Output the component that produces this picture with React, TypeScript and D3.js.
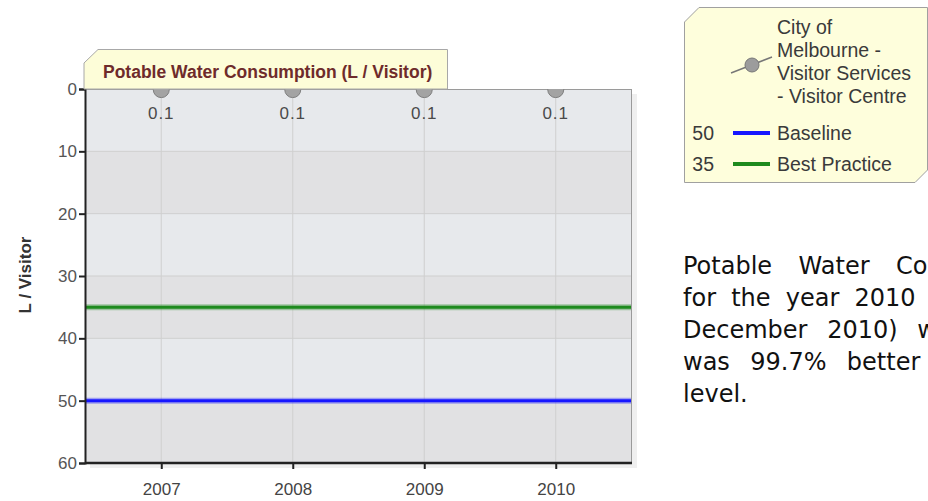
import React, { useEffect, useRef } from 'react';
import * as d3 from 'd3';

const years = ['2007', '2008', '2009', '2010'];
const visitorCentre = [0.1, 0.1, 0.1, 0.1];
const yTicks = [0, 10, 20, 30, 40, 50, 60];
const seriesName = ['City of', 'Melbourne -', 'Visitor Services', '- Visitor Centre'];
const refNames = ['Baseline', 'Best Practice'];
const refValues = [50, 35];
const refColors = ['#1616ff', '#1e8a1e'];
const chartTitle = 'Potable Water Consumption (L / Visitor)';
const yTitle = 'L / Visitor';
const summaryLines = [
  'Potable Water Consumption',
  'for the year 2010 (January -',
  'December 2010) was 0.1 L',
  'was 99.7% better than the',
  'level.',
];

const App = () => {
  const ref = useRef<SVGGElement>(null);

  useEffect(() => {
    const svg = d3.select(ref.current);
    svg.selectAll('*').remove();

    const left = 85, right = 632, top = 89, bottom = 463;
    const font = '"Liberation Sans", Arial, sans-serif';

    const x = d3.scalePoint<string>().domain(years).range([left, right]).padding(0.58);
    const y = d3.scaleLinear().domain([0, 60]).range([top, bottom]);

    svg.append('defs').append('clipPath').attr('id', 'plot-clip')
      .append('rect')
      .attr('x', left).attr('y', top)
      .attr('width', right - left).attr('height', bottom - top);

    // sombra
    svg.append('rect')
      .attr('x', left + 5).attr('y', top + 5)
      .attr('width', right - left).attr('height', bottom - top)
      .attr('fill', '#efefef');

    // faixas alternadas
    svg.selectAll('.band')
      .data(yTicks.slice(0, -1))
      .enter().append('rect')
      .attr('x', left).attr('y', d => y(d))
      .attr('width', right - left).attr('height', d => y(d + 10) - y(d))
      .attr('fill', (d, i) => (i % 2 === 0 ? '#e7e9ec' : '#e1e1e3'));

    // grade
    svg.selectAll('.hgrid')
      .data(yTicks.slice(1, -1))
      .enter().append('line')
      .attr('x1', left).attr('x2', right)
      .attr('y1', d => y(d)).attr('y2', d => y(d))
      .attr('stroke', '#cfcfcf');

    svg.selectAll('.vgrid')
      .data(years)
      .enter().append('line')
      .attr('x1', d => x(d)!).attr('x2', d => x(d)!)
      .attr('y1', top).attr('y2', bottom)
      .attr('stroke', '#cfcfcf');

    // linhas de referência
    const refs = refValues.map((v, i) => ({ v, color: refColors[i] }));
    svg.selectAll('.ref-halo')
      .data(refs)
      .enter().append('line')
      .attr('x1', left).attr('x2', right)
      .attr('y1', d => y(d.v)).attr('y2', d => y(d.v))
      .attr('stroke', d => d.color).attr('stroke-opacity', 0.35)
      .attr('stroke-width', 6);
    svg.selectAll('.ref')
      .data(refs)
      .enter().append('line')
      .attr('x1', left).attr('x2', right)
      .attr('y1', d => y(d.v)).attr('y2', d => y(d.v))
      .attr('stroke', d => d.color)
      .attr('stroke-width', 3);

    // bordas
    svg.append('line')
      .attr('x1', left).attr('x2', right).attr('y1', top + 0.5).attr('y2', top + 0.5)
      .attr('stroke', '#9a9a9a');
    svg.append('line')
      .attr('x1', right - 0.5).attr('x2', right - 0.5).attr('y1', top).attr('y2', bottom)
      .attr('stroke', '#9a9a9a');

    // pontos
    const pts = svg.append('g').attr('clip-path', 'url(#plot-clip)');
    pts.selectAll('circle')
      .data(visitorCentre)
      .enter().append('circle')
      .attr('cx', (d, i) => x(years[i])!)
      .attr('cy', d => y(d))
      .attr('r', 8)
      .attr('fill', '#a3a3a3')
      .attr('stroke', '#7e7e7e');

    svg.selectAll('.pt-label')
      .data(visitorCentre)
      .enter().append('text')
      .attr('x', (d, i) => x(years[i])!)
      .attr('y', d => y(d) + 29)
      .attr('text-anchor', 'middle')
      .attr('font-family', font).attr('font-size', 17)
      .attr('letter-spacing', 1)
      .attr('fill', '#4a4a4a')
      .text(d => d.toFixed(1));

    // eixos
    const yAxis = svg.append('g')
      .attr('transform', `translate(${left},0)`)
      .call(d3.axisLeft(y).tickValues(yTicks).tickSize(6).tickPadding(2));
    yAxis.select('.domain').attr('stroke', '#222').attr('stroke-width', 2);
    yAxis.selectAll('.tick line').attr('stroke', '#222').attr('stroke-width', 2);
    yAxis.selectAll('.tick text')
      .attr('font-family', font).attr('font-size', 17).attr('fill', '#555');

    const xAxis = svg.append('g')
      .attr('transform', `translate(0,${bottom})`)
      .call(d3.axisBottom(x).tickSize(6).tickPadding(14));
    xAxis.select('.domain').attr('stroke', '#222').attr('stroke-width', 2.5)
      .attr('d', `M${left},0H${right}`);
    xAxis.selectAll('.tick line').attr('stroke', '#222').attr('stroke-width', 2);
    xAxis.selectAll('.tick text')
      .attr('font-family', font).attr('font-size', 17).attr('fill', '#444');

    svg.append('text')
      .attr('transform', 'translate(31,275) rotate(-90)')
      .attr('text-anchor', 'middle')
      .attr('font-family', font).attr('font-size', 17).attr('font-weight', 'bold')
      .attr('fill', '#333')
      .text(yTitle);

    // aba do título
    svg.append('path')
      .attr('d', `M${left - 1},${top} V63 L98,49.5 H447.5 V${top} Z`)
      .attr('fill', '#fdfdd8').attr('stroke', '#a8a8a8');
    svg.append('text')
      .attr('x', 103).attr('y', 78)
      .attr('font-family', font).attr('font-size', 17.5).attr('font-weight', 'bold')
      .attr('fill', '#6e2b2b')
      .text(chartTitle);

    // legenda
    svg.append('path')
      .attr('d', 'M684.5,22 L699,7.5 H927.5 V170 L915,182.5 H684.5 Z')
      .attr('fill', '#fefedc').attr('stroke', '#a0a0a0');

    svg.append('line')
      .attr('x1', 731).attr('y1', 73).attr('x2', 772).attr('y2', 57)
      .attr('stroke', '#777').attr('stroke-width', 1.5);
    svg.append('circle')
      .attr('cx', 752).attr('cy', 65).attr('r', 7)
      .attr('fill', '#9c9c9c').attr('stroke', '#777');

    svg.selectAll('.leg-name')
      .data(seriesName)
      .enter().append('text')
      .attr('x', 777).attr('y', (d, i) => 34 + i * 23)
      .attr('font-family', font).attr('font-size', 19.5).attr('fill', '#3a3a3a')
      .text(d => d);

    const rows = refNames.map((name, i) => ({ name, v: refValues[i], color: refColors[i] }));
    const leg = svg.selectAll('.leg-row')
      .data(rows)
      .enter().append('g')
      .attr('transform', (d, i) => `translate(0,${133 + i * 31})`);
    leg.append('text')
      .attr('x', 714).attr('y', 7).attr('text-anchor', 'end')
      .attr('font-family', font).attr('font-size', 19.5).attr('fill', '#3a3a3a')
      .text(d => d.v);
    leg.append('line')
      .attr('x1', 733).attr('x2', 770)
      .attr('stroke', d => d.color).attr('stroke-width', 4);
    leg.append('text')
      .attr('x', 777).attr('y', 7)
      .attr('font-family', font).attr('font-size', 19.5).attr('fill', '#3a3a3a')
      .text(d => d.name);
  }, []);

  return (
    <svg
      width={928}
      height={501}
      style={{ position: 'absolute', left: 0, top: 0, background: '#fff' }}
    >
      <g ref={ref} />
      <foreignObject x={683} y={250} width={372} height={180}>
        <div
          style={{
            fontFamily: '"DejaVu Sans", Verdana, sans-serif',
            fontSize: 24,
            lineHeight: '32px',
            color: '#111',
          }}
        >
          {summaryLines.map((line, i) => (
            <div
              key={i}
              style={{
                textAlign: 'justify',
                textAlignLast: i < summaryLines.length - 1 ? 'justify' : 'left',
              }}
            >
              {line}
            </div>
          ))}
        </div>
      </foreignObject>
    </svg>
  );
};

export default App;
